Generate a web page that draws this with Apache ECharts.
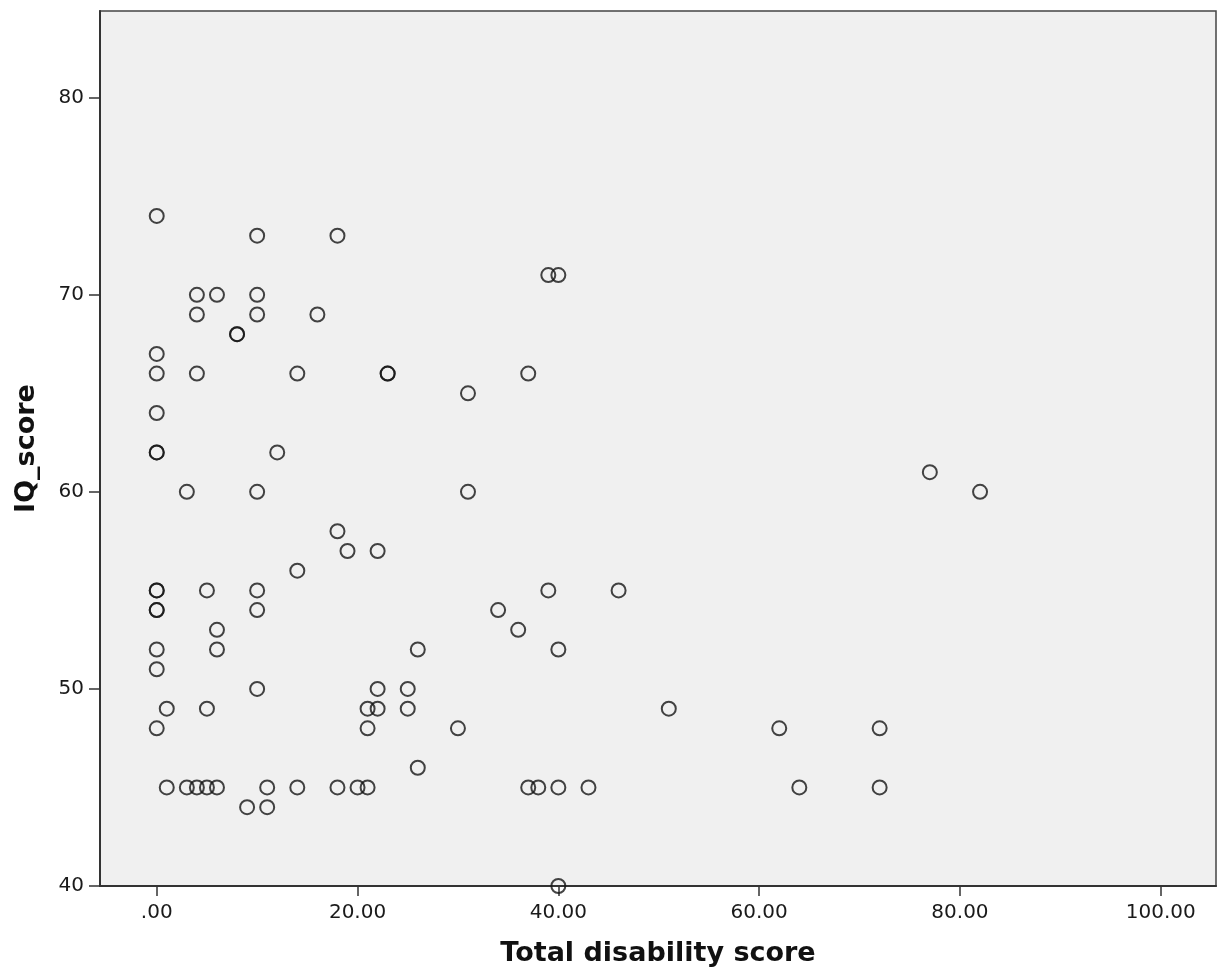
<!DOCTYPE html>
<html>
<head>
<meta charset="utf-8">
<script src="https://cdn.jsdelivr.net/npm/echarts@6/dist/echarts.min.js"></script>
<style>
html,body{margin:0;padding:0;background:#fff;}
#chart{width:1217px;height:974px;}
</style>
</head>
<body>
<div id="chart"></div>
<script>
const disability = [0,10,18,39,40,4,6,10,4,10,16,8,8,0,0,4,14,23,23,37,31,0,0,0,12,77,3,10,31,82,18,19,22,14,0,0,5,10,39,46,0,0,10,34,6,36,0,6,26,40,0,10,22,25,1,5,21,22,25,51,0,21,30,62,72,26,1,3,4,5,6,11,14,18,20,21,37,38,40,43,64,72,9,11,40];
const iqScore    = [74,73,73,71,71,70,70,70,69,69,69,68,68,67,66,66,66,66,66,66,65,64,62,62,62,61,60,60,60,60,58,57,57,56,55,55,55,55,55,55,54,54,54,54,53,53,52,52,52,52,51,50,50,50,49,49,49,49,49,49,48,48,48,48,48,46,45,45,45,45,45,45,45,45,45,45,45,45,45,45,45,45,44,44,40];
const xTicks = [0,20,40,60,80,100];
const yTicks = [40,50,60,70,80];
const xTitle = 'Total disability score';
const yTitle = 'IQ_score';

const points = disability.map((d,i)=>[d, iqScore[i]]);
const chart = echarts.init(document.getElementById('chart'));
const font = 'DejaVu Sans';
chart.setOption({
  animation:false,
  backgroundColor:'#ffffff',
  grid:{left:100,right:1,top:11,bottom:88,show:true,backgroundColor:'#f0f0f0',borderColor:'#444',borderWidth:1.5},
  xAxis:{
    type:'value',min:-5.65,max:105.5,
    name:xTitle,nameLocation:'middle',nameGap:54,
    nameTextStyle:{fontFamily:font,fontWeight:'bold',fontSize:27,color:'#111'},
    axisLine:{show:true,onZero:false,lineStyle:{color:'#333',width:2}},
    axisTick:{show:true,length:10,customValues:xTicks,lineStyle:{color:'#333',width:1.5}},
    axisLabel:{customValues:xTicks,margin:17,fontFamily:font,fontSize:20,color:'#1a1a1a',
      formatter:v=> v===0 ? '.00' : v.toFixed(2)},
    splitLine:{show:false}
  },
  yAxis:{
    type:'value',min:40,max:84.4,
    name:yTitle,nameLocation:'middle',nameGap:60,nameRotate:90,
    nameTextStyle:{fontFamily:font,fontWeight:'bold',fontSize:27,color:'#111'},
    axisLine:{show:true,onZero:false,lineStyle:{color:'#333',width:2}},
    axisTick:{show:true,length:11,customValues:yTicks,lineStyle:{color:'#333',width:1.5}},
    axisLabel:{customValues:yTicks,margin:16,fontFamily:font,fontSize:20,color:'#1a1a1a'},
    splitLine:{show:false}
  },
  series:[{
    type:'scatter',
    data:points,
    symbol:'circle',
    symbolSize:14,
    clip:false,
    itemStyle:{color:'rgba(0,0,0,0)',borderColor:'#151515',borderWidth:2}
  }]
});
</script>
</body>
</html>
